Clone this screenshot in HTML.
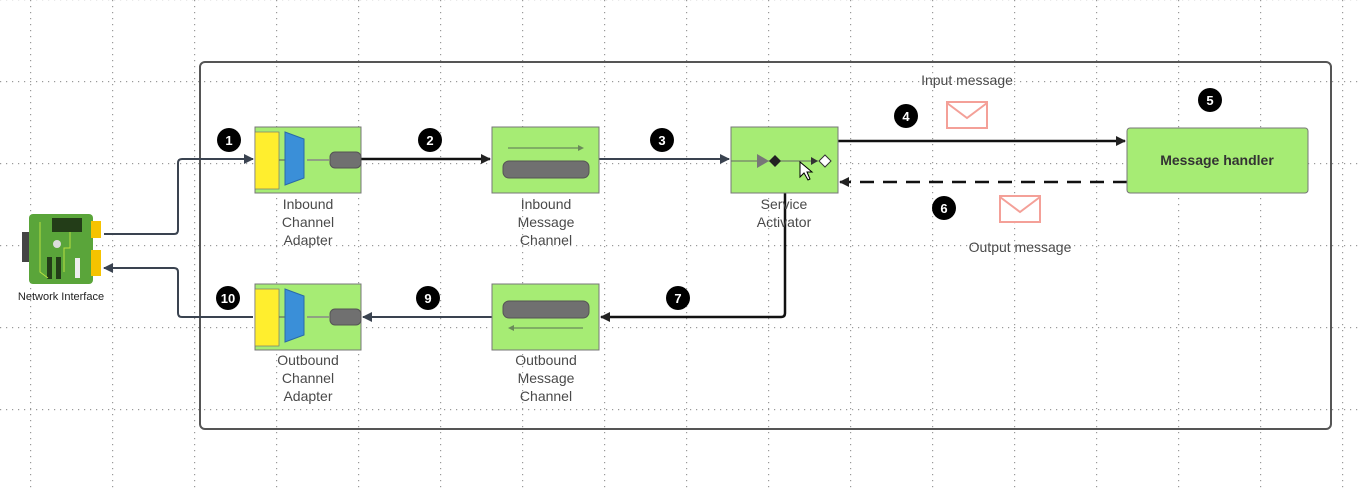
<!DOCTYPE html>
<html><head><meta charset="utf-8"><style>
html,body{margin:0;padding:0;background:#fff;}
svg{display:block;font-family:"Liberation Sans",Arial,sans-serif;}
</style></head><body>
<svg width="1361" height="491" viewBox="0 0 1361 491" xmlns="http://www.w3.org/2000/svg">
<defs>
<pattern id="gv" width="82" height="6" patternUnits="userSpaceOnUse" x="30" y="0"><rect x="0" y="0" width="1.2" height="1.2" fill="#999"/></pattern>
<pattern id="gh" width="6" height="82" patternUnits="userSpaceOnUse" x="0" y="81"><rect x="0" y="0" width="1.2" height="1.2" fill="#999"/></pattern>
<marker id="a" markerWidth="10" markerHeight="10" refX="9" refY="5" orient="auto" markerUnits="userSpaceOnUse"><path d="M0,0 L10,5 L0,10 z" fill="#222"/></marker>
<marker id="ag" markerWidth="10" markerHeight="10" refX="9" refY="5" orient="auto" markerUnits="userSpaceOnUse"><path d="M0,0 L10,5 L0,10 z" fill="#3a4350"/></marker>
<g id="env"><rect x="0" y="0" width="40" height="26" fill="#fff" stroke="#f4a098" stroke-width="2"/><path d="M0,1 L20,16 L40,1" fill="none" stroke="#f4a098" stroke-width="2"/></g>
<g id="adp"><rect x="0" y="0" width="106" height="66" fill="#a6ec74" stroke="#777"/><rect x="0" y="5" width="24" height="57" fill="#ffee2e" stroke="#777" stroke-width=".7"/><line x1="24" y1="33" x2="30" y2="33" stroke="#555"/><path d="M30,5 L49,12 L49,51 L30,58 z" fill="#3a8fd8" stroke="#2a6aa8"/><line x1="52" y1="33" x2="74" y2="33" stroke="#888" stroke-width="1.5"/><rect x="75" y="25" width="31" height="16" rx="5" fill="#707070" stroke="#555"/></g>
</defs>
<rect width="1361" height="491" fill="#fff"/>
<rect width="1361" height="491" fill="url(#gv)"/>
<rect width="1361" height="491" fill="url(#gh)"/>
<rect x="200" y="62" width="1131" height="367" rx="5" fill="none" stroke="#555" stroke-width="2"/>

<rect x="22" y="232" width="12" height="30" fill="#444"/>
<rect x="29" y="214" width="64" height="70" rx="4" fill="#5aa53a"/>
<rect x="91" y="221" width="10" height="17" fill="#f6c300"/>
<rect x="91" y="250" width="10" height="26" fill="#f6c300"/>
<rect x="52" y="218" width="30" height="14" fill="#233d18"/>
<circle cx="57" cy="244" r="4" fill="#ddd"/>
<rect x="47" y="257" width="5" height="22" fill="#233d18"/><rect x="56" y="257" width="5" height="22" fill="#233d18"/>
<rect x="75" y="258" width="5" height="20" fill="#eee"/>
<path d="M40,222 L40,272 L48,278 M70,232 L70,248 L64,248 L64,272" fill="none" stroke="#b8e040" stroke-width="1"/>
<text x="61" y="300" font-size="11" text-anchor="middle" fill="#222">Network Interface</text>

<path d="M104,234 L174,234 Q178,234 178,230 L178,163 Q178,159 182,159 L253,159" fill="none" stroke="#3a4350" stroke-width="2" marker-end="url(#ag)"/>
<path d="M253,317 L182,317 Q178,317 178,313 L178,272 Q178,268 174,268 L104,268" fill="none" stroke="#3a4350" stroke-width="2" marker-end="url(#ag)"/>
<line x1="361" y1="159" x2="490" y2="159" stroke="#111" stroke-width="2.5" marker-end="url(#a)"/>
<line x1="599" y1="159" x2="729" y2="159" stroke="#3a4350" stroke-width="2" marker-end="url(#ag)"/>
<line x1="838" y1="141" x2="1125" y2="141" stroke="#111" stroke-width="2.5" marker-end="url(#a)"/>
<line x1="1127" y1="182" x2="840" y2="182" stroke="#111" stroke-width="2.5" stroke-dasharray="14,9" marker-end="url(#a)"/>
<path d="M785,193 L785,313 Q785,317 781,317 L601,317" fill="none" stroke="#111" stroke-width="2.5" marker-end="url(#a)"/>
<line x1="492" y1="317" x2="363" y2="317" stroke="#3a4350" stroke-width="2" marker-end="url(#ag)"/>

<use href="#adp" x="255" y="127"/>
<use href="#adp" x="255" y="284"/>

<rect x="492" y="127" width="107" height="66" fill="#a6ec74" stroke="#777"/>
<line x1="508" y1="148" x2="582" y2="148" stroke="#6a8a5a" stroke-width="1.2"/><path d="M578,145 L584,148 L578,151z" fill="#6a8a5a"/>
<rect x="503" y="161" width="86" height="17" rx="6" fill="#707070" stroke="#555"/>
<rect x="492" y="284" width="107" height="66" fill="#a6ec74" stroke="#777"/>
<rect x="503" y="301" width="86" height="17" rx="6" fill="#707070" stroke="#555"/>
<line x1="510" y1="328" x2="583" y2="328" stroke="#6a8a5a" stroke-width="1.2"/><path d="M514,325 L508,328 L514,331z" fill="#6a8a5a"/>

<rect x="731" y="127" width="107" height="66" fill="#a6ec74" stroke="#777"/>
<line x1="731" y1="161" x2="818" y2="161" stroke="#666" stroke-width="1"/>
<path d="M757,154 L769,161 L757,168z" fill="#777"/>
<path d="M775,155 L781,161 L775,167 L769,161z" fill="#222"/>
<path d="M811,157 L818,161 L811,165z" fill="#333"/>
<path d="M825,155 L831,161 L825,167 L819,161z" fill="#fff" stroke="#333"/>
<path d="M800,162 L800,177 L804,173 L808,180 L810,179 L807,172 L812,172z" fill="#fff" stroke="#000" stroke-width="1"/>

<rect x="1127" y="128" width="181" height="65" rx="3" fill="#a6ec74" stroke="#777"/>
<text x="1217" y="165" font-size="14" font-weight="bold" text-anchor="middle" fill="#333">Message handler</text>

<use href="#env" x="947" y="102"/>
<use href="#env" x="1000" y="196"/>

<g font-size="14" fill="#4a4a4a" text-anchor="middle">
<text x="308" y="209">Inbound</text><text x="308" y="227">Channel</text><text x="308" y="245">Adapter</text>
<text x="546" y="209">Inbound</text><text x="546" y="227">Message</text><text x="546" y="245">Channel</text>
<text x="784" y="209">Service</text><text x="784" y="227">Activator</text>
<text x="308" y="365">Outbound</text><text x="308" y="383">Channel</text><text x="308" y="401">Adapter</text>
<text x="546" y="365">Outbound</text><text x="546" y="383">Message</text><text x="546" y="401">Channel</text>
<text x="967" y="85">Input message</text>
<text x="1020" y="252">Output message</text>
</g>

<g font-size="13" font-weight="bold" fill="#fff" text-anchor="middle">
<circle cx="229" cy="140" r="12" fill="#000"/><text x="229" y="145">1</text>
<circle cx="430" cy="140" r="12" fill="#000"/><text x="430" y="145">2</text>
<circle cx="662" cy="140" r="12" fill="#000"/><text x="662" y="145">3</text>
<circle cx="906" cy="116" r="12" fill="#000"/><text x="906" y="121">4</text>
<circle cx="1210" cy="100" r="12" fill="#000"/><text x="1210" y="105">5</text>
<circle cx="944" cy="208" r="12" fill="#000"/><text x="944" y="213">6</text>
<circle cx="678" cy="298" r="12" fill="#000"/><text x="678" y="303">7</text>
<circle cx="428" cy="298" r="12" fill="#000"/><text x="428" y="303">9</text>
<circle cx="228" cy="298" r="12" fill="#000"/><text x="228" y="303">10</text>
</g>
</svg>
</body></html>
